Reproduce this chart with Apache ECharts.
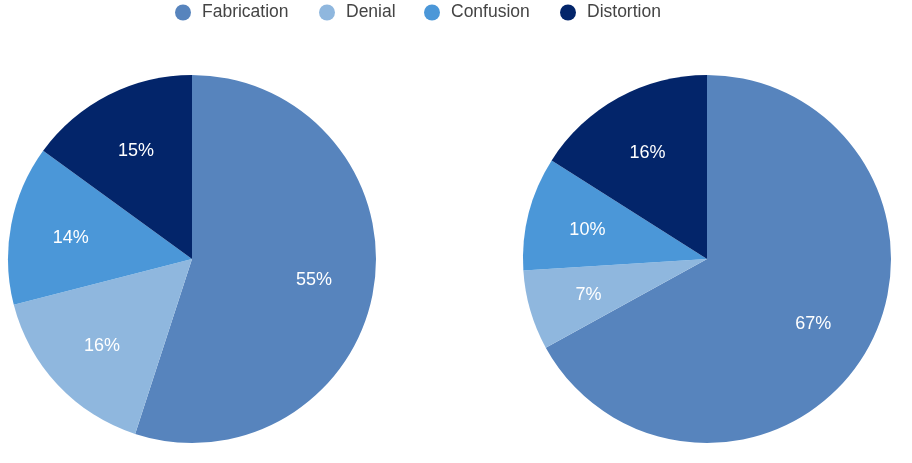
<!DOCTYPE html>
<html>
<head>
<meta charset="utf-8">
<script src="https://cdn.jsdelivr.net/npm/echarts@6/dist/echarts.min.js"></script>
<style>
html,body{margin:0;padding:0;background:#fff;}
#c{width:912px;height:463px;}
</style>
</head>
<body>
<div id="c"></div>
<script>
var categories = ['Fabrication', 'Denial', 'Confusion', 'Distortion'];
var leftValues = [55, 16, 14, 15];
var rightValues = [67, 7, 10, 16];
var colors = ['#5784BD', '#8FB7DE', '#4B97D8', '#03256A'];

var FONT = '"Liberation Sans", Arial, Helvetica, sans-serif';

function toData(vals) {
  return categories.map(function (n, i) { return { name: n, value: vals[i] }; });
}

function pieSeries(vals, cx) {
  return [
    {
      type: 'pie',
      center: [cx, 259],
      radius: [0, 184],
      startAngle: 90,
      clockwise: true,
      label: { show: false },
      labelLine: { show: false },
      itemStyle: { borderWidth: 0 },
      emphasis: { disabled: true },
      data: toData(vals)
    },
    {
      type: 'pie',
      center: [cx, 259],
      radius: [57, 184],
      startAngle: 90,
      clockwise: true,
      silent: true,
      itemStyle: { color: 'rgba(0,0,0,0)', borderWidth: 0 },
      label: {
        show: true,
        position: 'inside',
        formatter: '{c}%',
        color: '#ffffff',
        fontSize: 18,
        fontFamily: FONT,
        textBorderWidth: 0,
        offset: [0, 2]
      },
      labelLine: { show: false },
      emphasis: { disabled: true },
      data: toData(vals)
    }
  ];
}

var legendLefts = [175, 319, 424, 560];
var legends = categories.map(function (n, i) {
  return {
    data: [n],
    left: legendLefts[i],
    top: 3.5,
    padding: 0,
    icon: 'circle',
    itemWidth: 28,
    itemHeight: 16,
    selectedMode: false,
    textStyle: { fontSize: 17.5, color: '#444444', fontFamily: FONT, padding: [1, 0, 0, 0] }
  };
});

var chart = echarts.init(document.getElementById('c'), null, { renderer: 'canvas' });
chart.setOption({
  animation: false,
  color: colors,
  legend: legends,
  series: pieSeries(leftValues, 192).concat(pieSeries(rightValues, 707))
});
</script>
</body>
</html>
